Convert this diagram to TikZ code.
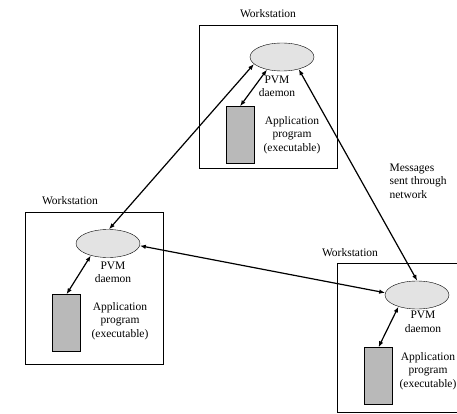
\documentclass[tikz,border=0pt]{standalone}
\usepackage{fontspec}
\setmainfont{Liberation Serif}
\usetikzlibrary{shapes.geometric,arrows.meta}
\begin{document}
\begin{tikzpicture}[x=1pt,y=-1pt,
    font=\fontsize{11.5}{13.5}\selectfont,
    station/.style={draw,line width=0.9pt,inner sep=0pt,minimum width=138pt},
    pvmd/.style={ellipse,draw,fill=gray!22,minimum width=64pt,minimum height=28pt,inner sep=0pt},
    prog/.style={draw,fill=gray!55,minimum width=28pt,minimum height=57pt,inner sep=0pt},
    link/.style={{Latex[length=6pt,width=4.5pt]}-{Latex[length=6pt,width=4.5pt]},line width=1.2pt}]
                    \useasboundingbox (0,0) rectangle (457,414);
                    \clip (0,0) rectangle (457,414);

                    % workstations
                    \node[station,minimum height=143pt] (wsT) at (268,96.5) {};
                    \node[station,minimum height=152pt] (wsL) at (94,288) {};
                    \node[station,minimum height=149pt] (wsR) at (406,337.5) {};
                    \node (labT) at (268,14) {Workstation};
                    \node (labL) at (70,201) {Workstation};
                    \node (labR) at (350,253) {Workstation};

                    % daemons and programs
                    \node[pvmd] (tD) at (282,57) {};
                    \node[pvmd] (lD) at (108,243.5) {};
                    \node[pvmd] (rD) at (417,295) {};
                    \node[prog] (tP) at (240,135) {};
                    \node[prog] (lP) at (66.5,323) {};
                    \node[prog] (rP) at (378.5,376) {};

                    \node[align=center] (tDtxt) at (277,86.5) {PVM\\daemon};
                    \node[align=center] (lDtxt) at (113,272.5) {PVM\\daemon};
                    \node[align=center] (rDtxt) at (423,322) {PVM\\daemon};
                    \node[align=center] (tPtxt) at (292,135) {Application\\program\\(executable)};
                    \node[align=center] (lPtxt) at (120,321) {Application\\program\\(executable)};
                    \node[align=center] (rPtxt) at (428,371) {Application\\program\\(executable)};

                    \node[align=left,anchor=west] (msg) at (386,181) {Messages\\sent through\\network};

                    % connections
                    \draw[link] (tD.194) -- (lD.86);
                    \draw[link] (tD.324) -- (rD.89);
                    \draw[link] (lD.356) -- (rD.176);
                    \draw[link] (tD.220) -- (tP.north);
                    \draw[link] (lD.215) -- (lP.north);
                    \draw[link] (rD.212) -- (rP.north);
                \end{tikzpicture}
\end{document}
